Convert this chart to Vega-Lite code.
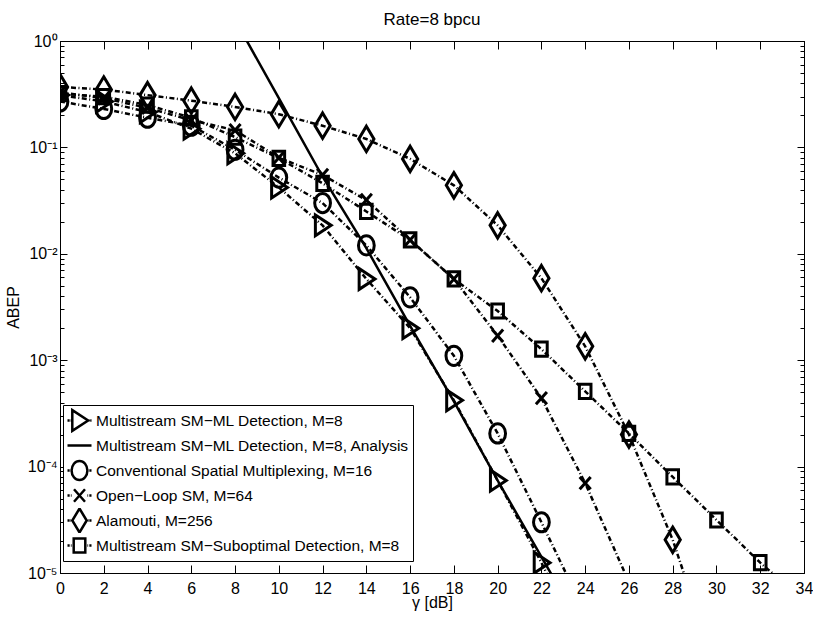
{
  "$schema": "https://vega.github.io/schema/vega-lite/v6.json",
  "autosize": {"type": "none"},
  "padding": {"left": 60, "top": 41, "right": 9, "bottom": 48},
  "width": 744,
  "height": 532,
  "title": {"text": "Rate=8 bpcu", "fontSize": 17, "fontWeight": "normal", "font": "Liberation Sans", "color": "black", "frame": "group", "anchor": "middle", "offset": -9},
  "data": {"values": [
    {"series": "Multistream SM−ML Detection, M=8", "snr": 0, "abep": 0.31},
    {"series": "Multistream SM−ML Detection, M=8", "snr": 2, "abep": 0.27},
    {"series": "Multistream SM−ML Detection, M=8", "snr": 4, "abep": 0.215},
    {"series": "Multistream SM−ML Detection, M=8", "snr": 6, "abep": 0.15},
    {"series": "Multistream SM−ML Detection, M=8", "snr": 8, "abep": 0.088},
    {"series": "Multistream SM−ML Detection, M=8", "snr": 10, "abep": 0.042},
    {"series": "Multistream SM−ML Detection, M=8", "snr": 12, "abep": 0.0185},
    {"series": "Multistream SM−ML Detection, M=8", "snr": 14, "abep": 0.0058},
    {"series": "Multistream SM−ML Detection, M=8", "snr": 16, "abep": 0.002},
    {"series": "Multistream SM−ML Detection, M=8", "snr": 18, "abep": 0.00042},
    {"series": "Multistream SM−ML Detection, M=8", "snr": 20, "abep": 0.000074},
    {"series": "Multistream SM−ML Detection, M=8", "snr": 22, "abep": 0.0000125},
    {"series": "Multistream SM−ML Detection, M=8", "snr": 24, "abep": 0.0000018},
    {"series": "Multistream SM−ML Detection, M=8, Analysis", "snr": 8, "abep": 1.58},
    {"series": "Multistream SM−ML Detection, M=8, Analysis", "snr": 10, "abep": 0.29},
    {"series": "Multistream SM−ML Detection, M=8, Analysis", "snr": 12, "abep": 0.053},
    {"series": "Multistream SM−ML Detection, M=8, Analysis", "snr": 14, "abep": 0.0113},
    {"series": "Multistream SM−ML Detection, M=8, Analysis", "snr": 16, "abep": 0.0021},
    {"series": "Multistream SM−ML Detection, M=8, Analysis", "snr": 18, "abep": 0.00041},
    {"series": "Multistream SM−ML Detection, M=8, Analysis", "snr": 20, "abep": 0.000074},
    {"series": "Multistream SM−ML Detection, M=8, Analysis", "snr": 22, "abep": 0.0000142},
    {"series": "Multistream SM−ML Detection, M=8, Analysis", "snr": 24, "abep": 0.0000027},
    {"series": "Conventional Spatial Multiplexing, M=16", "snr": 0, "abep": 0.27},
    {"series": "Conventional Spatial Multiplexing, M=16", "snr": 2, "abep": 0.23},
    {"series": "Conventional Spatial Multiplexing, M=16", "snr": 4, "abep": 0.19},
    {"series": "Conventional Spatial Multiplexing, M=16", "snr": 6, "abep": 0.16},
    {"series": "Conventional Spatial Multiplexing, M=16", "snr": 8, "abep": 0.095},
    {"series": "Conventional Spatial Multiplexing, M=16", "snr": 10, "abep": 0.052},
    {"series": "Conventional Spatial Multiplexing, M=16", "snr": 12, "abep": 0.03},
    {"series": "Conventional Spatial Multiplexing, M=16", "snr": 14, "abep": 0.012},
    {"series": "Conventional Spatial Multiplexing, M=16", "snr": 16, "abep": 0.0039},
    {"series": "Conventional Spatial Multiplexing, M=16", "snr": 18, "abep": 0.0011},
    {"series": "Conventional Spatial Multiplexing, M=16", "snr": 20, "abep": 0.000205},
    {"series": "Conventional Spatial Multiplexing, M=16", "snr": 22, "abep": 0.00003},
    {"series": "Conventional Spatial Multiplexing, M=16", "snr": 24, "abep": 0.0000042},
    {"series": "Open−Loop SM, M=64", "snr": 0, "abep": 0.33},
    {"series": "Open−Loop SM, M=64", "snr": 2, "abep": 0.29},
    {"series": "Open−Loop SM, M=64", "snr": 4, "abep": 0.235},
    {"series": "Open−Loop SM, M=64", "snr": 6, "abep": 0.18},
    {"series": "Open−Loop SM, M=64", "snr": 8, "abep": 0.145},
    {"series": "Open−Loop SM, M=64", "snr": 10, "abep": 0.08},
    {"series": "Open−Loop SM, M=64", "snr": 12, "abep": 0.055},
    {"series": "Open−Loop SM, M=64", "snr": 14, "abep": 0.032},
    {"series": "Open−Loop SM, M=64", "snr": 16, "abep": 0.0135},
    {"series": "Open−Loop SM, M=64", "snr": 18, "abep": 0.0058},
    {"series": "Open−Loop SM, M=64", "snr": 20, "abep": 0.0017},
    {"series": "Open−Loop SM, M=64", "snr": 22, "abep": 0.00044},
    {"series": "Open−Loop SM, M=64", "snr": 24, "abep": 0.00007},
    {"series": "Open−Loop SM, M=64", "snr": 26, "abep": 0.0000082},
    {"series": "Alamouti, M=256", "snr": 0, "abep": 0.37},
    {"series": "Alamouti, M=256", "snr": 2, "abep": 0.35},
    {"series": "Alamouti, M=256", "snr": 4, "abep": 0.31},
    {"series": "Alamouti, M=256", "snr": 6, "abep": 0.275},
    {"series": "Alamouti, M=256", "snr": 8, "abep": 0.24},
    {"series": "Alamouti, M=256", "snr": 10, "abep": 0.205},
    {"series": "Alamouti, M=256", "snr": 12, "abep": 0.16},
    {"series": "Alamouti, M=256", "snr": 14, "abep": 0.12},
    {"series": "Alamouti, M=256", "snr": 16, "abep": 0.078},
    {"series": "Alamouti, M=256", "snr": 18, "abep": 0.044},
    {"series": "Alamouti, M=256", "snr": 20, "abep": 0.0185},
    {"series": "Alamouti, M=256", "snr": 22, "abep": 0.0059},
    {"series": "Alamouti, M=256", "snr": 24, "abep": 0.00135},
    {"series": "Alamouti, M=256", "snr": 26, "abep": 0.0002},
    {"series": "Alamouti, M=256", "snr": 28, "abep": 0.0000205},
    {"series": "Alamouti, M=256", "snr": 30, "abep": 0.0000012},
    {"series": "Multistream SM−Suboptimal Detection, M=8", "snr": 0, "abep": 0.32},
    {"series": "Multistream SM−Suboptimal Detection, M=8", "snr": 2, "abep": 0.3},
    {"series": "Multistream SM−Suboptimal Detection, M=8", "snr": 4, "abep": 0.25},
    {"series": "Multistream SM−Suboptimal Detection, M=8", "snr": 6, "abep": 0.19},
    {"series": "Multistream SM−Suboptimal Detection, M=8", "snr": 8, "abep": 0.125},
    {"series": "Multistream SM−Suboptimal Detection, M=8", "snr": 10, "abep": 0.079},
    {"series": "Multistream SM−Suboptimal Detection, M=8", "snr": 12, "abep": 0.046},
    {"series": "Multistream SM−Suboptimal Detection, M=8", "snr": 14, "abep": 0.025},
    {"series": "Multistream SM−Suboptimal Detection, M=8", "snr": 16, "abep": 0.0135},
    {"series": "Multistream SM−Suboptimal Detection, M=8", "snr": 18, "abep": 0.0058},
    {"series": "Multistream SM−Suboptimal Detection, M=8", "snr": 20, "abep": 0.0029},
    {"series": "Multistream SM−Suboptimal Detection, M=8", "snr": 22, "abep": 0.00127},
    {"series": "Multistream SM−Suboptimal Detection, M=8", "snr": 24, "abep": 0.00051},
    {"series": "Multistream SM−Suboptimal Detection, M=8", "snr": 26, "abep": 0.000205},
    {"series": "Multistream SM−Suboptimal Detection, M=8", "snr": 28, "abep": 0.00008},
    {"series": "Multistream SM−Suboptimal Detection, M=8", "snr": 30, "abep": 0.0000315},
    {"series": "Multistream SM−Suboptimal Detection, M=8", "snr": 32, "abep": 0.0000125},
    {"series": "Multistream SM−Suboptimal Detection, M=8", "snr": 34, "abep": 0.0000055}
  ]},
  "layer": [
    {
      "transform": [{"filter": "datum.series != 'Multistream SM−ML Detection, M=8, Analysis'"}],
      "mark": {"type": "line", "color": "black", "opacity": 1, "strokeWidth": 2.5, "strokeDash": [5, 2.5, 1, 2.5], "clip": true},
      "encoding": {
        "x": {"field": "snr", "type": "quantitative", "scale": {"domain": [0, 34], "nice": false, "zero": false},
          "axis": {"orient": "bottom", "values": [0,2,4,6,8,10,12,14,16,18,20,22,24,26,28,30,32,34], "tickSize": -8, "labelPadding": 15, "labelFlush": false, "labelOverlap": false, "title": "γ [dB]", "titlePadding": -2}},
        "y": {"field": "abep", "type": "quantitative", "scale": {"type": "log", "domain": [0.00001, 1], "nice": false},
          "axis": {"orient": "left", "title": "ABEP", "titlePadding": 6,
            "values": [0.00001,0.00002,0.00003,0.00004,0.00005,0.00006,0.00007,0.00008,0.00009,0.0001,0.0002,0.0003,0.0004,0.0005,0.0006,0.0007,0.0008,0.0009,0.001,0.002,0.003,0.004,0.005,0.006,0.007,0.008,0.009,0.01,0.02,0.03,0.04,0.05,0.06,0.07,0.08,0.09,0.1,0.2,0.3,0.4,0.5,0.6,0.7,0.8,0.9,1],
            "tickSize": {"condition": {"test": "indexof([1,0.1,0.01,0.001,0.0001,0.00001], datum.value) >= 0", "value": -7}, "value": -4},
            "labelPadding": 10, "labelOverlap": false, "labelFlush": false,
            "labelExpr": "datum.value == 1 ? '10⁰' : datum.value == 0.1 ? '10⁻¹' : datum.value == 0.01 ? '10⁻²' : datum.value == 0.001 ? '10⁻³' : datum.value == 0.0001 ? '10⁻⁴' : datum.value == 0.00001 ? '10⁻⁵' : ''"}},
        "detail": {"field": "series"}
      }
    },
    {
      "transform": [{"filter": "datum.series == 'Multistream SM−ML Detection, M=8, Analysis'"}],
      "mark": {"type": "line", "color": "black", "opacity": 1, "strokeWidth": 2.5, "clip": true},
      "encoding": {
        "x": {"field": "snr", "type": "quantitative",
          "axis": {"orient": "top", "values": [0,2,4,6,8,10,12,14,16,18,20,22,24,26,28,30,32,34], "tickSize": -8, "labels": false, "title": null}},
        "y": {"field": "abep", "type": "quantitative",
          "axis": {"orient": "right", "title": null, "labels": false,
            "values": [0.00001,0.00002,0.00003,0.00004,0.00005,0.00006,0.00007,0.00008,0.00009,0.0001,0.0002,0.0003,0.0004,0.0005,0.0006,0.0007,0.0008,0.0009,0.001,0.002,0.003,0.004,0.005,0.006,0.007,0.008,0.009,0.01,0.02,0.03,0.04,0.05,0.06,0.07,0.08,0.09,0.1,0.2,0.3,0.4,0.5,0.6,0.7,0.8,0.9,1],
            "tickSize": {"condition": {"test": "indexof([1,0.1,0.01,0.001,0.0001,0.00001], datum.value) >= 0", "value": -7}, "value": -4}}}
      }
    },
    {
      "transform": [{"filter": "datum.series != 'Multistream SM−ML Detection, M=8, Analysis'"}],
      "mark": {"type": "point", "filled": false, "color": "black", "opacity": 1, "strokeWidth": 3, "size": 400, "clip": true},
      "encoding": {
        "x": {"field": "snr", "type": "quantitative", "axis": null},
        "y": {"field": "abep", "type": "quantitative", "axis": null},
        "shape": {"field": "series", "type": "nominal", "legend": null,
          "scale": {
            "domain": ["Multistream SM−ML Detection, M=8", "Conventional Spatial Multiplexing, M=16", "Open−Loop SM, M=64", "Alamouti, M=256", "Multistream SM−Suboptimal Detection, M=8"],
            "range": [
              "M-0.72,-1.04L0.86,0L-0.72,1.04Z",
              "M0.79,0A0.79,0.96 0 1,1 -0.79,0A0.79,0.96 0 1,1 0.79,0Z",
              "M-0.55,-0.62L0.55,0.62M-0.55,0.62L0.55,-0.62",
              "M0,-1.27L0.76,0L0,1.27L-0.76,0Z",
              "M-0.58,-0.71H0.58V0.71H-0.58Z"
            ]}}
      }
    },
    {
      "mark": {"type": "point", "filled": false, "color": "black", "strokeWidth": 3, "size": 576, "opacity": 0},
      "encoding": {
        "x": {"field": "snr", "type": "quantitative", "axis": null},
        "y": {"field": "abep", "type": "quantitative", "axis": null},
        "shape": {"field": "series", "type": "nominal",
          "scale": {
            "domain": ["Multistream SM−ML Detection, M=8", "Multistream SM−ML Detection, M=8, Analysis", "Conventional Spatial Multiplexing, M=16", "Open−Loop SM, M=64", "Alamouti, M=256", "Multistream SM−Suboptimal Detection, M=8"],
            "range": [
              "M-1,0H-0.82M-0.74,0H-0.68M-0.6,-0.867L0.717,0L-0.6,0.867ZM0.78,0H0.84M0.9,0H1",
              "M-1,0H1",
              "M-1,0H-0.82M-0.76,0H-0.7M0.658,0A0.658,0.8 0 1,1 -0.658,0A0.658,0.8 0 1,1 0.658,0ZM0.7,0H0.76M0.82,0H1",
              "M-1,0H-0.82M-0.72,0H-0.66M-0.458,-0.517L0.458,0.517M-0.458,0.517L0.458,-0.517M0.66,0H0.72M0.82,0H1",
              "M-1,0H-0.82M-0.76,0H-0.7M0,-1.0L0.6,0L0,1.0L-0.6,0ZM0.7,0H0.76M0.82,0H1",
              "M-1,0H-0.82M-0.72,0H-0.66M-0.483,-0.592H0.483V0.592H-0.483ZM0.66,0H0.72M0.82,0H1"
            ]},
          "legend": {"orient": "none", "legendX": 3, "legendY": 364, "title": null,
            "labelFont": "Liberation Sans", "labelFontSize": 15.5, "labelColor": "black", "labelLimit": 500,
            "symbolSize": 576, "symbolStrokeWidth": 2.5, "symbolStrokeColor": "black", "symbolOpacity": 1,
            "padding": 3, "rowPadding": 0, "clipHeight": 25, "labelOffset": 3,
            "strokeColor": "black", "fillColor": "white"}}
      }
    }
  ],
  "resolve": {"axis": {"x": "independent", "y": "independent"}, "scale": {"shape": "independent"}},
  "config": {
    "font": "Liberation Sans",
    "view": {"stroke": "black", "strokeWidth": 1},
    "axis": {"grid": false, "domainColor": "black", "domainWidth": 1, "tickColor": "black", "tickWidth": 1,
      "labelColor": "black", "titleColor": "black", "labelFont": "Liberation Sans", "titleFont": "Liberation Sans",
      "labelFontSize": 16, "titleFontSize": 16, "titleFontWeight": "normal"}
  }
}
